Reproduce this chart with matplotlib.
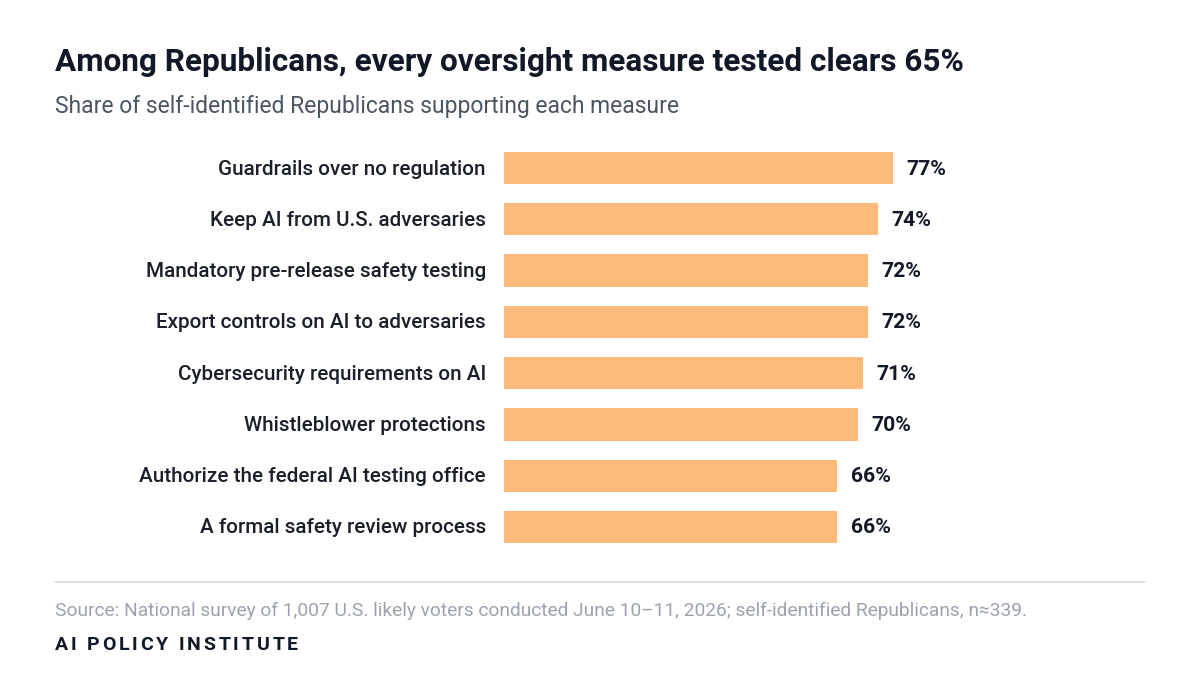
import matplotlib.pyplot as plt
from matplotlib.lines import Line2D

# data
measures = [
    "Guardrails over no regulation",
    "Keep AI from U.S. adversaries",
    "Mandatory pre-release safety testing",
    "Export controls on AI to adversaries",
    "Cybersecurity requirements on AI",
    "Whistleblower protections",
    "Authorize the federal AI testing office",
    "A formal safety review process",
]
support = [77, 74, 72, 72, 71, 70, 66, 66]

title = "Among Republicans, every oversight measure tested clears 65%"
subtitle = "Share of self-identified Republicans supporting each measure"
source = ("Source: National survey of 1,007 U.S. likely voters conducted June 10\u201311, 2026; "
          "self-identified Republicans, n\u2248339.")
brand = "AI POLICY INSTITUTE"

W, H = 1200, 693
fig = plt.figure(figsize=(W / 100, H / 100), dpi=100)
fig.patch.set_facecolor("white")

plt.rcParams['font.family'] = ['Roboto', 'DejaVu Sans']

# axes placed in pixel coords: x from 504 (0%) to 1009 (100%), rows 142..553
left, right = 504, 1009
top, bottom = 142.4, 552.6
ax = fig.add_axes([left / W, 1 - bottom / H, (right - left) / W, (bottom - top) / H])
n = len(measures)
ypos = list(range(n))
ax.barh(ypos, support, height=0.63, color="#fdba7d", edgecolor="none")
ax.set_xlim(0, 100)
ax.set_ylim(n - 0.5, -0.5)
ax.axis("off")

for y, lab, v in zip(ypos, measures, support):
    ax.text(-3.6, y + 0.02, lab, ha="right", va="center", fontsize=14.9,
            fontweight="medium", color="#1a1f29")
    ax.text(v + 2.7, y + 0.02, f"{v}%", ha="left", va="center", fontsize=15.2,
            fontweight="bold", color="#111827")

fig.text(55 / W, 1 - 62 / H, title, ha="left", va="center", fontsize=22.7,
         fontweight="bold", color="#111827")
fig.text(55 / W, 1 - 106 / H, subtitle, ha="left", va="center", fontsize=16.5,
         color="#4b5563")

fig.add_artist(Line2D([55 / W, 1145 / W], [1 - 582 / H, 1 - 582 / H],
                      color="#d9dce1", lw=1.2, transform=fig.transFigure))

fig.text(55 / W, 1 - 611 / H, source, ha="left", va="center", fontsize=13.8,
         color="#9ca3af")

# brand line with letter spacing, drawn char by char
renderer = fig.canvas.get_renderer()
x = 55.0
tracking = 2.9
for ch in brand:
    t = fig.text(x / W, 1 - 645 / H, ch, ha="left", va="center", fontsize=14,
                 fontweight="bold", color="#111827")
    w = t.get_window_extent(renderer).width if ch != " " else 4.0
    x += w + tracking

fig.savefig("out.png", dpi=100, facecolor="white")
